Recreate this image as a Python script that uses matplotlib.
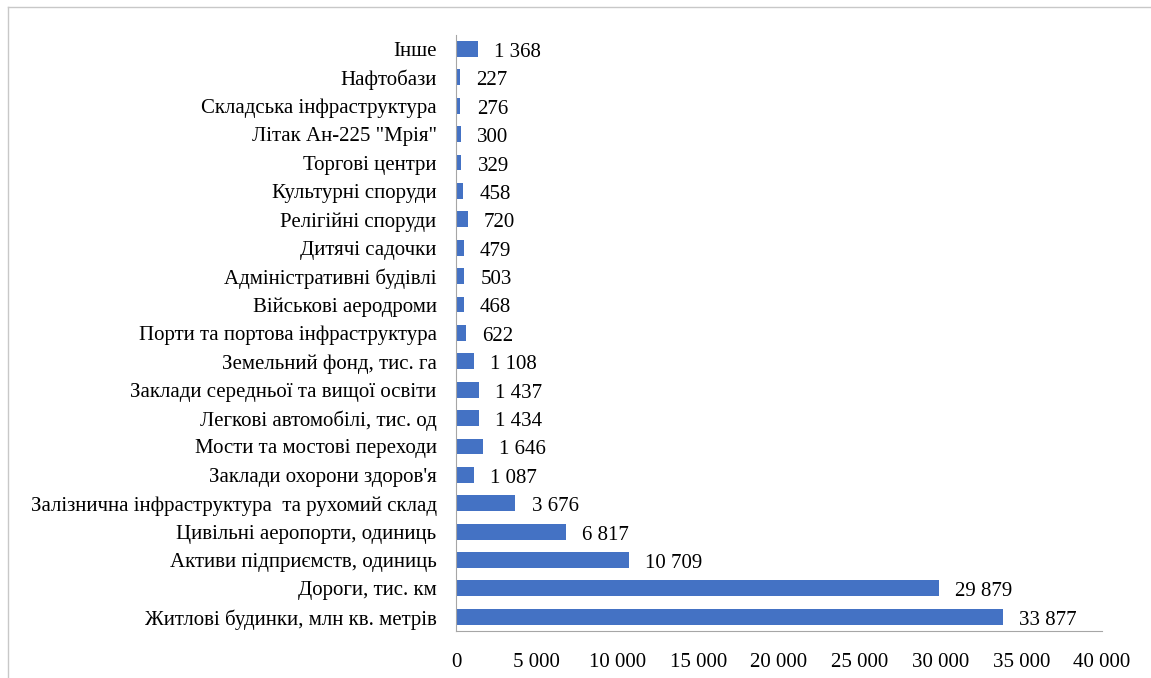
import matplotlib
matplotlib.use("Agg")
import matplotlib.pyplot as plt
from matplotlib.lines import Line2D
from matplotlib.ticker import FuncFormatter
from matplotlib.transforms import ScaledTranslation

categories = [
    "Житлові будинки, млн кв. метрів",
    "Дороги, тис. км",
    "Активи підприємств, одиниць",
    "Цивільні аеропорти, одиниць",
    "Залізнична інфраструктура  та рухомий склад",
    "Заклади охорони здоров'я",
    "Мости та мостові переходи",
    "Легкові автомобілі, тис. од",
    "Заклади середньої та вищої освіти",
    "Земельний фонд, тис. га",
    "Порти та портова інфраструктура",
    "Військові аеродроми",
    "Адміністративні будівлі",
    "Дитячі садочки",
    "Релігійні споруди",
    "Культурні споруди",
    "Торгові центри",
    "Літак Ан-225 \"Мрія\"",
    "Складська інфраструктура",
    "Нафтобази",
    "Інше",
]
values = [33877, 29879, 10709, 6817, 3676, 1087, 1646, 1434, 1437, 1108,
          622, 468, 503, 479, 720, 458, 329, 300, 276, 227, 1368]
xticks = [0, 5000, 10000, 15000, 20000, 25000, 30000, 35000, 40000]


def fmt(v):
    #thousands separated by a space
    return f"{int(v):,}".replace(",", " ")


plt.rcParams["font.family"] = ["Liberation Serif", "DejaVu Serif"]

fig = plt.figure(figsize=(11.51, 6.78), dpi=100)
ax = fig.add_axes([0.3962, 0.0693, 0.9574 - 0.3962, 0.9487 - 0.0693])

pos = range(len(categories))
ax.barh(pos, values, height=0.56, color="#4472C4")

#nudge text down a little so it sits level with the bars
shift = ScaledTranslation(0, -2.5 / 72, fig.dpi_scale_trans)

#value labels right of each bar
for y, v in zip(pos, values):
    ax.text(v + 1000, y, fmt(v), va="center", ha="left", fontsize=15,
            transform=ax.transData + shift)

ax.set_ylim(-0.5, len(categories) - 0.5)
ax.set_xlim(0, 40000)
ax.set_yticks(list(pos))
ax.set_yticklabels(categories, fontsize=15)
for lbl in ax.get_yticklabels():
    lbl.set_transform(lbl.get_transform() + shift)
ax.set_xticks(xticks)
ax.xaxis.set_major_formatter(FuncFormatter(lambda v, p: fmt(v)))
ax.tick_params(axis="x", length=0, pad=16, labelsize=15)
ax.tick_params(axis="y", length=0, pad=14)

for s in ["top", "right"]:
    ax.spines[s].set_visible(False)
ax.spines["left"].set_color("#A6A6A6")
ax.spines["bottom"].set_color("#A6A6A6")

#outer frame lines (left and top)
fig.add_artist(Line2D([8 / 1151, 8 / 1151], [0, 1 - 7 / 678], color="#C8C8C8", lw=1))
fig.add_artist(Line2D([8 / 1151, 1], [1 - 7 / 678, 1 - 7 / 678], color="#C8C8C8", lw=1))

fig.savefig("out.png", dpi=100)
